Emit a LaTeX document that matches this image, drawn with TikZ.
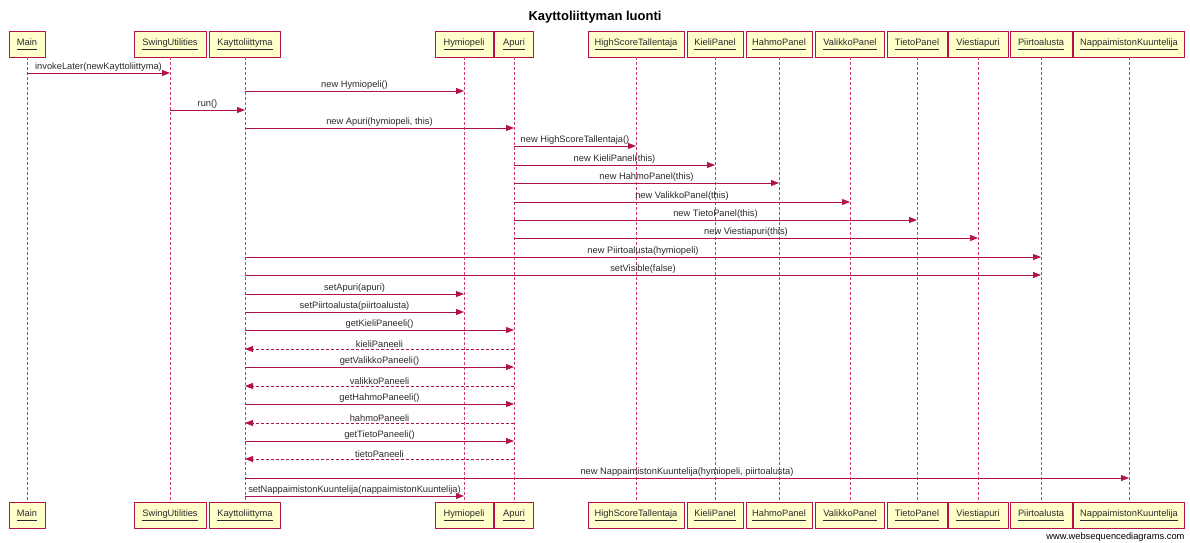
\documentclass[tikz,border=0pt]{standalone}
\usepackage{fontspec}
\setmainfont{Liberation Sans}
\usetikzlibrary{arrows.meta,positioning,calc}
\definecolor{wsdline}{HTML}{B0124A}
\definecolor{wsdlife}{HTML}{D43C6C}
\definecolor{wsdbox}{HTML}{FFFFCC}
\definecolor{wsdtext}{HTML}{2A2A2A}
\tikzset{
	actor/.style={draw=wsdline, fill=wsdbox, line width=0.9pt, minimum height=26pt,
		inner sep=0pt, font=\fontsize{9.3}{10}\selectfont, text=wsdtext},
	life/.style={draw=wsdlife, line width=0.8pt, dash pattern=on 3pt off 2pt},
	call/.style={draw=wsdline, line width=0.8pt, -{Triangle[length=8pt,width=6pt]}},
	reply/.style={call, dash pattern=on 3pt off 2pt},
	msglabel/.style={font=\fontsize{9.3}{10}\selectfont, text=wsdtext, above, inner sep=1.2pt}
}
\newcommand{\actorname}[1]{\underline{#1\vphantom{Ay}}}

\begin{document}
\begin{tikzpicture}[x=1pt,y=-1pt]
					\useasboundingbox (0,0) rectangle (1190,542);
					
					\node[font=\bfseries\fontsize{13}{15}\selectfont] (title) at (595,17) {Kayttoliittyman luonti};
					
					% Participants
					\foreach \n/\c/\w/\t in {main/27/36/Main, swing/170/72/SwingUtilities,
						kay/245/71/Kayttoliittyma, hymio/464/58/Hymiopeli, apuri/514/39/Apuri,
						hst/636/96/HighScoreTallentaja, kieli/715/56/KieliPanel, hahmo/779/66/HahmoPanel,
						valikko/850/69/ValikkoPanel, tieto/917/60/TietoPanel, viesti/978/60/Viestiapuri,
						piirto/1041/62/Piirtoalusta, napp/1129/111/NappaimistonKuuntelija}{
						\node[actor, minimum width=\w pt] (\n-top) at (\c,44) {\actorname{\t}};
						\node[actor, minimum width=\w pt] (\n-bot) at (\c,515) {\actorname{\t}};
						\draw[life] (\n-top.south) -- (\n-bot.north);
					}
					
					% Messages
					\foreach \a/\b/\y/\t in {main/swing/73/invokeLater(newKayttoliittyma),
						kay/hymio/91/new Hymiopeli(), swing/kay/110/run(),
						kay/apuri/128/{new Apuri(hymiopeli, this)},
						apuri/hst/146/new HighScoreTallentaja(), apuri/kieli/165/new KieliPanel(this),
						apuri/hahmo/183/new HahmoPanel(this), apuri/valikko/202/new ValikkoPanel(this),
						apuri/tieto/220/new TietoPanel(this), apuri/viesti/238/new Viestiapuri(this),
						kay/piirto/257/new Piirtoalusta(hymiopeli), kay/piirto/275/setVisible(false),
						kay/hymio/294/setApuri(apuri), kay/hymio/312/setPiirtoalusta(piirtoalusta),
						kay/apuri/330/getKieliPaneeli(), kay/apuri/367/getValikkoPaneeli(),
						kay/apuri/404/getHahmoPaneeli(), kay/apuri/441/getTietoPaneeli(),
						kay/napp/478/{new NappaimistonKuuntelija(hymiopeli, piirtoalusta)},
						kay/hymio/496/setNappaimistonKuuntelija(nappaimistonKuuntelija)}{
						\draw[call] (\a-top |- 0,\y) -- (\b-top |- 0,\y) node[msglabel, midway] {\t};
					}
					
					% Returns
					\foreach \a/\b/\y/\t in {apuri/kay/349/kieliPaneeli, apuri/kay/386/valikkoPaneeli,
						apuri/kay/423/hahmoPaneeli, apuri/kay/459/tietoPaneeli}{
						\draw[reply] (\a-top |- 0,\y) -- (\b-top |- 0,\y) node[msglabel, midway] {\t};
					}
					
					\node[anchor=east, font=\fontsize{9.3}{10}\selectfont, text=black] (credit) at (1188,537) {www.websequencediagrams.com};
\end{tikzpicture}
\end{document}
